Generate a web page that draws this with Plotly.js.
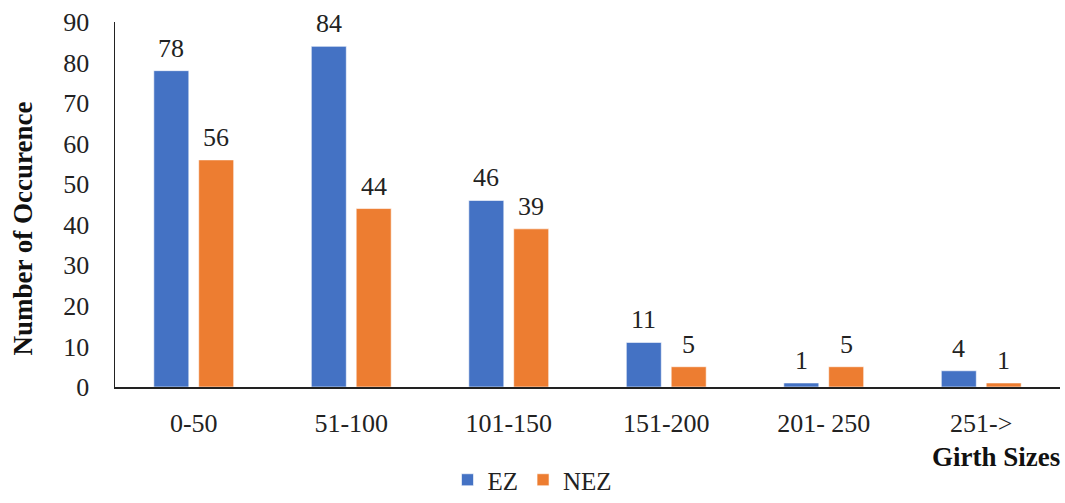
<!DOCTYPE html>
<html>
<head>
<meta charset="utf-8">
<script src="https://cdn.plot.ly/plotly-3.0.1.min.js"></script>
<style>
  html, body { margin: 0; padding: 0; background: #fff; }
  #chart { width: 1065px; height: 503px; }
</style>
</head>
<body>
<div id="chart"></div>
<script>
// Girth size classes and occurrence counts per zone
const girthClasses = ['0-50', '51-100', '101-150', '151-200', '201- 250', '251->'];
const ezCounts = [78, 84, 46, 11, 1, 4];
const nezCounts = [56, 44, 39, 5, 5, 1];
const seriesNames = ['EZ', 'NEZ'];
const yTicks = [0, 10, 20, 30, 40, 50, 60, 70, 80, 90];

const serif = 'Liberation Serif, Times New Roman, serif';
const ink = '#222';
const blue = '#4472C4';
const orange = '#ED7D31';

const traces = [
  {
    type: 'bar', name: seriesNames[0], x: girthClasses, y: ezCounts,
    marker: { color: blue, line: { color: 'rgba(255,255,255,0.6)', width: 1 } }
  },
  {
    type: 'bar', name: seriesNames[1], x: girthClasses, y: nezCounts,
    marker: { color: orange, line: { color: 'rgba(255,255,255,0.6)', width: 1 } }
  }
];

// Value labels above each bar, offset to the left/right bar of a group
const groupOffset = 22.5;
const valueLabels = [];
[ezCounts, nezCounts].forEach((vals, si) => {
  vals.forEach((v, i) => {
    valueLabels.push({
      x: girthClasses[i], y: v, xref: 'x', yref: 'y',
      text: String(v), showarrow: false,
      xshift: si === 0 ? -groupOffset : groupOffset,
      yanchor: 'bottom', yshift: 6,
      font: { family: serif, size: 26, color: ink }
    });
  });
});

const layout = {
  width: 1065, height: 503,
  margin: { l: 115, r: 5, t: 22, b: 116 },
  paper_bgcolor: '#fff', plot_bgcolor: '#fff',
  barmode: 'group', bargap: 0.43, bargroupgap: 0.22,
  font: { family: serif, size: 26, color: ink },
  xaxis: {
    showline: true, linecolor: ink, linewidth: 1.5,
    showgrid: false, zeroline: false, ticks: '',
    ticklabelstandoff: 12,
    tickfont: { family: serif, size: 26, color: ink }
  },
  yaxis: {
    range: [0, 90], tickvals: yTicks, ticktext: yTicks.map(String),
    showline: true, linecolor: ink, linewidth: 1.5,
    showgrid: false, zeroline: false, ticks: '',
    ticklabelstandoff: 19,
    tickfont: { family: serif, size: 26, color: ink }
  },
  showlegend: true,
  legend: {
    orientation: 'h', x: 0.5, xanchor: 'center', xref: 'container',
    y: 0, yanchor: 'bottom', yref: 'container',
    font: { family: serif, size: 25, color: ink },
    traceorder: 'normal'
  },
  annotations: valueLabels.concat([
    {
      text: '<b>Number of Occurence</b>', textangle: -90, showarrow: false,
      xref: 'paper', yref: 'paper', x: -0.097, y: 0.435, xanchor: 'center', yanchor: 'middle',
      font: { family: serif, size: 27, color: '#111' }
    },
    {
      text: '<b>Girth Sizes</b>', showarrow: false,
      xref: 'paper', yref: 'paper', x: 1.002, y: -0.192, xanchor: 'right', yanchor: 'middle',
      font: { family: serif, size: 27, color: '#111' }
    }
  ])
};

Plotly.newPlot('chart', traces, layout, { displayModeBar: false, staticPlot: true });
</script>
</body>
</html>
